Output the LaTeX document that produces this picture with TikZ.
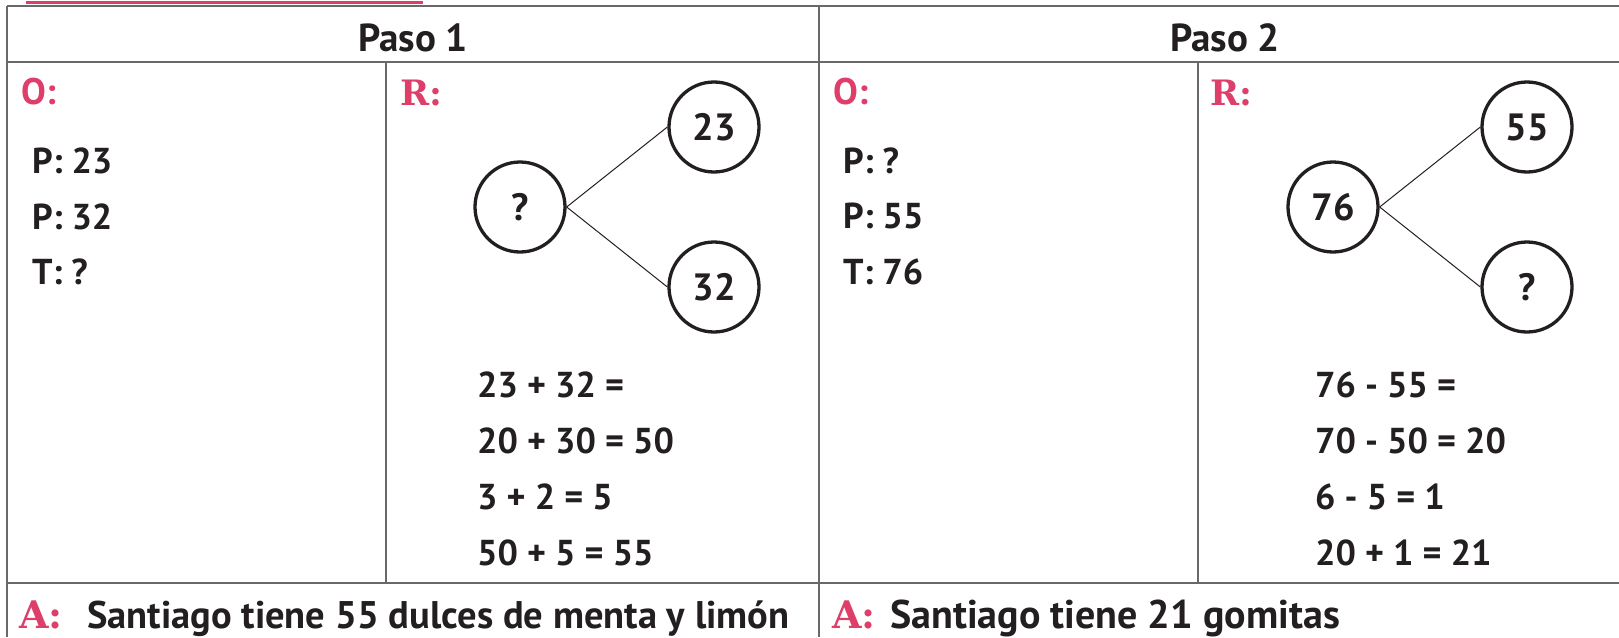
\documentclass[tikz,border=0pt]{standalone}
\usepackage{fontspec}
\setmainfont{PT Sans}
\newfontfamily\slabfont{DejaVu Serif Bold}
\definecolor{pinkc}{RGB}{222,62,106}
\definecolor{ink}{RGB}{35,31,32}
\definecolor{rulec}{RGB}{105,105,105}
\begin{document}
\begin{tikzpicture}[x=1pt,y=-1pt,
  gridline/.style={draw=rulec, line width=2pt},
  head/.style={anchor=base, inner sep=0pt, text=ink, font=\fontsize{39}{44}\selectfont\bfseries},
  lbl/.style={anchor=base west, inner sep=0pt, text=ink, font=\fontsize{36}{40}\selectfont\bfseries},
  plbl/.style={anchor=base west, inner sep=0pt, text=pinkc, font=\fontsize{37}{40}\selectfont\bfseries},
  slab/.style={anchor=base west, inner sep=0pt, text=pinkc, font=\fontsize{35}{40}\slabfont},
  slabA/.style={anchor=base west, inner sep=0pt, text=pinkc, font=\fontsize{38}{40}\slabfont},
  ans/.style={anchor=base west, inner sep=0pt, text=ink, font=\fontsize{38.5}{42}\selectfont\bfseries},
  ansR/.style={ans, font=\fontsize{40}{42}\selectfont\bfseries},
  bub/.style={circle, draw=ink, line width=3.3pt, minimum size=90pt, inner sep=0pt, text=ink, font=\fontsize{38}{40}\selectfont\bfseries},
  link/.style={draw=ink, line width=1pt}]
\useasboundingbox (0,0) rectangle (1619,637);
% pink top rule
\draw[pinkc, line width=3pt] (26,2) -- (423,2);
% table grid
\draw[gridline] (7,6) -- (1619,6);
\draw[gridline] (7,62) -- (1619,62);
\draw[gridline] (7,583) -- (1619,583);
\draw[gridline] (7,6) -- (7,637);
\draw[gridline] (819,6) -- (819,637);
\draw[gridline] (386,62) -- (386,583);
\draw[gridline] (1198,62) -- (1198,583);
% headers
\node[head] (h1) at (413,51) {Paso 1};
\node[head] (h2) at (1225,51) {Paso 2};
% left O column
\node[plbl] (o1) at (21,104) {O:};
\node[lbl] (a1) at (32,173) {P: 23};
\node[lbl] (a2) at (32,229) {P: 32};
\node[lbl] (a3) at (32,284) {T: ?};
\node[plbl] (o2) at (833,104) {O:};
\node[lbl] (b1) at (843,173) {P: ?};
\node[lbl] (b2) at (843,228) {P: 55};
\node[lbl] (b3) at (843,284) {T: 76};
% R labels
\node[slab] (r1) at (400,105) {R:};
\node[slab] (r2) at (1210,105) {R:};
% bonds 1
\node[bub] (q1) at (520,207) {?};
\node[bub] (c23) at (714,127) {23};
\node[bub] (c32) at (714,287) {32};
\draw[link] (q1.east) -- (c23.west);
\draw[link] (q1.east) -- (c32.west);
% bonds 2
\node[bub] (c76) at (1333,207) {76};
\node[bub] (c55) at (1527,127) {55};
\node[bub] (q2) at (1527,287) {?};
\draw[link] (c76.east) -- (c55.west);
\draw[link] (c76.east) -- (q2.west);
% equations 1
\node[lbl] (e1) at (477,397) {23 + 32 =};
\node[lbl] (e2) at (477,453) {20 + 30 = 50};
\node[lbl] (e3) at (477,509) {3 + 2 = 5};
\node[lbl] (e4) at (477,565) {50 + 5 = 55};
% equations 2
\node[lbl] (f1) at (1315,397) {76 - 55 =};
\node[lbl] (f2) at (1315,453) {70 - 50 = 20};
\node[lbl] (f3) at (1315,509) {6 - 5 = 1};
\node[lbl] (f4) at (1315,565) {20 + 1 = 21};
% answers
\node[slabA] (s1) at (19,628) {A:};
\node[ans] (t1) at (87,628) {Santiago tiene 55 dulces de menta y limón};
\node[slabA] (s2) at (832,628) {A:};
\node[ansR] (t2) at (890,628) {Santiago tiene 21 gomitas};
\end{tikzpicture}
\end{document}
